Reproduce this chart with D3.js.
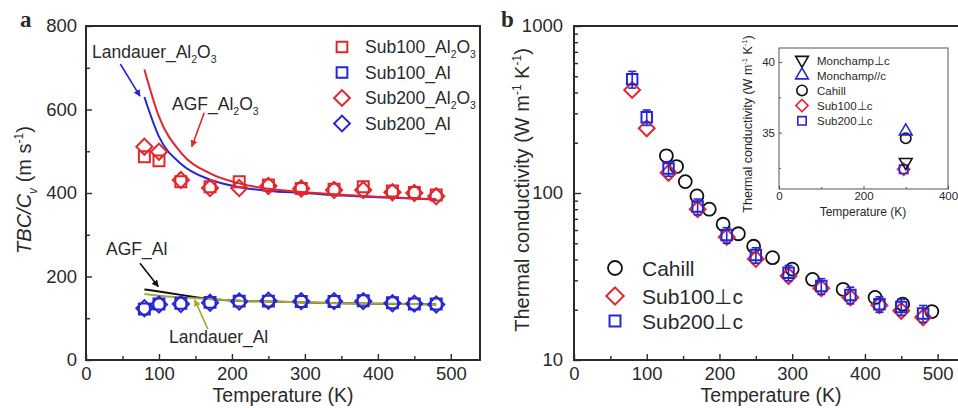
<!DOCTYPE html>
<html>
<head>
<meta charset="utf-8">
<script src="https://cdn.jsdelivr.net/npm/d3@7"></script>
<style>
  body { margin: 0; background: #fff; }
  text { font-family: "Liberation Sans", Arial, sans-serif; fill: #2a2a2a; }
</style>
</head>
<body>
<div id="chart"></div>
<script>
// ---- panel a data ----
const tA = [80, 100, 130, 170, 210, 250, 295, 340, 380, 420, 450, 480];
const sub100Al2O3 = [487, 477, 427, 415, 427, 419, 411, 409, 415, 405, 401, 395];
const sub200Al2O3 = [511, 499, 431, 412, 412, 417, 411, 407, 407, 402, 400, 392];
const sub100Al = [122, 134, 136, 138, 141, 141, 140, 140, 142, 137, 134, 134];
const sub200Al = [124, 133, 134, 137, 140, 142, 141, 141, 141, 136, 135, 133];
const tLine = [80, 100, 130, 170, 210, 250, 300, 350, 400, 450, 480];
const landauerAl2O3 = [630, 535, 470, 432, 414, 405, 400, 394, 390, 387, 385];
const agfAl2O3 = [696, 583, 497, 447, 423, 410, 402, 396, 391, 387, 384];
const agfAl = [169, 164, 156, 146, 142, 140, 138, 136, 135, 134, 133];
const landauerAl = [158, 154, 150, 146, 142, 140, 138, 136, 135, 134, 133];
const xTicksA = [0, 100, 200, 300, 400, 500];
const yTicksA = [0, 200, 400, 600, 800];

// ---- panel b data ----
const tCahill = [127, 141, 153, 169, 186, 205, 226, 247, 273, 300, 328, 370, 414, 452, 492];
const kCahill = [167, 144, 117, 96, 80, 65, 57, 48, 41, 35, 30.4, 26.5, 23.7, 21.6, 19.5];
const tSub = [80, 100, 130, 170, 210, 250, 295, 340, 380, 420, 450, 480];
const kSub100 = [414, 244, 132, 80, 54.5, 40.3, 31.8, 26.9, 23.7, 21.3, 19.7, 18];
const kSub200 = [480, 284, 140, 83, 56, 42.5, 33.3, 27.7, 24.5, 21.6, 20.8, 19];
const errSub200 = [55, 30, 14, 9, 6, 4.5, 3.5, 3, 2.8, 2.3, 2.3, 2.2];
const xTicksB = [0, 100, 200, 300, 400, 500];
const yTicksB = [10, 100, 1000];

// ---- inset data ----
const insetNames = ["Monchamp\u22A5c", "Monchamp//c", "Cahill", "Sub100\u22A5c", "Sub200\u22A5c"];
const insetT = [300, 300, 300, 295, 295];
const insetK = [32.9, 35.1, 34.6, 32.4, 32.4];

const red = "#e3262c", blue = "#2626d6", olive = "#a6a63a", ink = "#2a2a2a";

const svg = d3.select("#chart").append("svg")
  .attr("width", 958).attr("height", 408);

const diamond = s => d3.symbol().type(d3.symbolSquare).size(s)();
const square = s => d3.symbol().type(d3.symbolSquare).size(s)();

// text with sub/superscripts
function rich(sel, parts, size) {
  let shift = 0;
  parts.forEach(p => {
    const ts = sel.append("tspan").text(p.t);
    const target = p.sub ? size * 0.3 : p.sup ? -size * 0.42 : 0;
    if (target !== shift) { ts.attr("dy", target - shift); shift = target; }
    if (p.sub || p.sup) ts.style("font-size", (size * 0.6) + "px");
    if (p.it) ts.style("font-style", "italic");
  });
}

function styleAxis(g, size) {
  g.select(".domain").remove();
  g.selectAll("line").attr("stroke", ink).attr("stroke-width", 1.4);
  g.selectAll("text").style("font-size", size + "px").attr("fill", ink);
}

// arrow marker
const defs = svg.append("defs");
[["arrRed", red], ["arrBlue", blue], ["arrBlack", "#111"], ["arrOlive", olive]].forEach(([id, c]) => {
  defs.append("marker").attr("id", id).attr("viewBox", "0 0 10 10")
    .attr("refX", 9).attr("refY", 5).attr("markerWidth", 7).attr("markerHeight", 7)
    .attr("orient", "auto").attr("markerUnits", "userSpaceOnUse")
    .append("path").attr("d", "M0,0 L10,5 L0,10 Z").attr("fill", c);
});

// =============== PANEL A ===============
const xA = d3.scaleLinear().domain([0, 540]).range([86, 480]);
const yA = d3.scaleLinear().domain([0, 800]).range([360, 26]);
const gA = svg.append("g");

gA.append("g").attr("transform", "translate(0,360)")
  .call(d3.axisBottom(xA).tickValues(xTicksA).tickSizeInner(-6).tickSizeOuter(0).tickPadding(7))
  .call(g => styleAxis(g, 18.5));
gA.append("g").attr("transform", "translate(0,360)")
  .call(d3.axisBottom(xA).tickValues(d3.range(50, 540, 100)).tickSizeInner(-4).tickSizeOuter(0).tickFormat(""))
  .call(g => styleAxis(g, 18.5));
gA.append("g").attr("transform", "translate(86,0)")
  .call(d3.axisLeft(yA).tickValues(yTicksA).tickSizeInner(-6).tickSizeOuter(0).tickPadding(9))
  .call(g => styleAxis(g, 18.5));
gA.append("g").attr("transform", "translate(86,0)")
  .call(d3.axisLeft(yA).tickValues(d3.range(100, 800, 200)).tickSizeInner(-4).tickSizeOuter(0).tickFormat(""))
  .call(g => styleAxis(g, 18.5));
gA.append("rect").attr("x", 86).attr("y", 26).attr("width", 394).attr("height", 334)
  .attr("fill", "none").attr("stroke", ink).attr("stroke-width", 2);

// lines
const lineA = d3.line().x((d, i) => xA(tLine[i])).y(d => yA(d)).curve(d3.curveMonotoneX);
[[landauerAl2O3, blue], [agfAl2O3, red], [agfAl, "#111"], [landauerAl, olive]].forEach(([arr, c]) => {
  gA.append("path").attr("d", lineA(arr)).attr("fill", "none").attr("stroke", c).attr("stroke-width", 2);
});

// markers
function markersA(arr, color, kind) {
  gA.append("g").selectAll("path").data(arr).join("path")
    .attr("d", kind === "sq" ? square(120) : diamond(130))
    .attr("transform", (d, i) => `translate(${xA(tA[i])},${yA(d)})` + (kind === "sq" ? "" : " rotate(45)"))
    .attr("fill", "none").attr("stroke", color).attr("stroke-width", 2);
}
markersA(sub100Al2O3, red, "sq");
markersA(sub200Al2O3, red, "di");
markersA(sub100Al, blue, "sq");
markersA(sub200Al, blue, "di");

// legend a
const legA = [
  { parts: [{ t: "Sub100_Al" }, { t: "2", sub: true }, { t: "O" }, { t: "3", sub: true }], c: red, k: "sq" },
  { parts: [{ t: "Sub100_Al" }], c: blue, k: "sq" },
  { parts: [{ t: "Sub200_Al" }, { t: "2", sub: true }, { t: "O" }, { t: "3", sub: true }], c: red, k: "di" },
  { parts: [{ t: "Sub200_Al" }], c: blue, k: "di" }
];
legA.forEach((d, i) => {
  const y = 47 + i * 25.5;
  gA.append("path").attr("d", d.k === "sq" ? square(115) : diamond(125))
    .attr("transform", `translate(342,${y})` + (d.k === "sq" ? "" : " rotate(45)"))
    .attr("fill", "none").attr("stroke", d.c).attr("stroke-width", 2);
  rich(gA.append("text").attr("x", 365).attr("y", y + 6).style("font-size", "17.5px"), d.parts, 17.5);
});

// annotations a
function annot(textX, textY, parts, from, to, color, marker) {
  rich(gA.append("text").attr("x", textX).attr("y", textY).style("font-size", "17.5px"), parts, 17.5);
  gA.append("line")
    .attr("x1", xA(from[0])).attr("y1", yA(from[1]))
    .attr("x2", xA(to[0])).attr("y2", yA(to[1]))
    .attr("stroke", color).attr("stroke-width", 1.6).attr("marker-end", `url(#${marker})`);
}
annot(92, 58, [{ t: "Landauer_Al" }, { t: "2", sub: true }, { t: "O" }, { t: "3", sub: true }], [47, 709], [74, 632], blue, "arrBlue");
annot(172, 110, [{ t: "AGF_Al" }, { t: "2", sub: true }, { t: "O" }, { t: "3", sub: true }], [162, 592], [145, 511], red, "arrRed");
annot(106, 255, [{ t: "AGF_Al" }], [74, 232], [99, 176], "#111", "arrBlack");
annot(169, 343, [{ t: "Landauer_Al" }], [167, 74], [149, 144], olive, "arrOlive");

// axis titles a
gA.append("text").attr("x", 283).attr("y", 402).attr("text-anchor", "middle")
  .style("font-size", "19.5px").text("Temperature (K)");
rich(gA.append("text").attr("transform", "translate(31,190) rotate(-90)").attr("text-anchor", "middle")
  .style("font-size", "20px"),
  [{ t: "TBC/C", it: true }, { t: "v", sub: true, it: true }, { t: " (m s" }, { t: "-1", sup: true }, { t: ")" }], 20);
gA.append("text").attr("x", 20).attr("y", 27).style("font-family", "'Liberation Serif', serif")
  .style("font-weight", "bold").style("font-size", "23px").text("a");

// =============== PANEL B ===============
const xB = d3.scaleLinear().domain([0, 550]).range([574, 974]);
const yB = d3.scaleLog().domain([10, 1000]).range([360, 26]);
const gB = svg.append("g");

const minorB = [];
[10, 100].forEach(dec => { for (let m = 2; m <= 9; m++) minorB.push(dec * m); });

gB.append("g").attr("transform", "translate(0,360)")
  .call(d3.axisBottom(xB).tickValues(xTicksB).tickSizeInner(-6).tickSizeOuter(0).tickPadding(7))
  .call(g => styleAxis(g, 18.5));
gB.append("g").attr("transform", "translate(0,360)")
  .call(d3.axisBottom(xB).tickValues(d3.range(50, 550, 100)).tickSizeInner(-4).tickSizeOuter(0).tickFormat(""))
  .call(g => styleAxis(g, 18.5));
gB.append("g").attr("transform", "translate(574,0)")
  .call(d3.axisLeft(yB).tickValues(yTicksB).tickFormat(d3.format("d")).tickSizeInner(-7).tickSizeOuter(0).tickPadding(11))
  .call(g => styleAxis(g, 18.5));
gB.append("g").attr("transform", "translate(574,0)")
  .call(d3.axisLeft(yB).tickValues(minorB).tickSizeInner(-4).tickSizeOuter(0).tickFormat(""))
  .call(g => styleAxis(g, 18.5));
gB.append("rect").attr("x", 574).attr("y", 26).attr("width", 400).attr("height", 334)
  .attr("fill", "none").attr("stroke", ink).attr("stroke-width", 2);

// Cahill circles
gB.append("g").selectAll("circle").data(kCahill).join("circle")
  .attr("cx", (d, i) => xB(tCahill[i])).attr("cy", d => yB(d)).attr("r", 6.5)
  .attr("fill", "none").attr("stroke", "#111").attr("stroke-width", 1.8);
// Sub100 diamonds
gB.append("g").selectAll("path").data(kSub100).join("path")
  .attr("d", diamond(125))
  .attr("transform", (d, i) => `translate(${xB(tSub[i])},${yB(d)}) rotate(45)`)
  .attr("fill", "none").attr("stroke", red).attr("stroke-width", 2);
// Sub200 squares + error bars
const eb = gB.append("g").selectAll("g").data(kSub200).join("g");
eb.append("line")
  .attr("x1", (d, i) => xB(tSub[i])).attr("x2", (d, i) => xB(tSub[i]))
  .attr("y1", (d, i) => yB(d + errSub200[i])).attr("y2", (d, i) => yB(d - errSub200[i]))
  .attr("stroke", blue).attr("stroke-width", 1.6);
eb.append("line")
  .attr("x1", (d, i) => xB(tSub[i]) - 4).attr("x2", (d, i) => xB(tSub[i]) + 4)
  .attr("y1", (d, i) => yB(d + errSub200[i])).attr("y2", (d, i) => yB(d + errSub200[i]))
  .attr("stroke", blue).attr("stroke-width", 1.6);
eb.append("line")
  .attr("x1", (d, i) => xB(tSub[i]) - 4).attr("x2", (d, i) => xB(tSub[i]) + 4)
  .attr("y1", (d, i) => yB(d - errSub200[i])).attr("y2", (d, i) => yB(d - errSub200[i]))
  .attr("stroke", blue).attr("stroke-width", 1.6);
eb.append("path").attr("d", square(110))
  .attr("transform", (d, i) => `translate(${xB(tSub[i])},${yB(d)})`)
  .attr("fill", "none").attr("stroke", blue).attr("stroke-width", 2);

// legend b
const legB = [["Cahill", "#111", "ci"], ["Sub100\u22A5c", red, "di"], ["Sub200\u22A5c", blue, "sq"]];
const legY = [268, 296, 321];
legB.forEach((d, i) => {
  const y = legY[i];
  if (d[2] === "ci") {
    gB.append("circle").attr("cx", 615).attr("cy", y).attr("r", 7)
      .attr("fill", "none").attr("stroke", d[1]).attr("stroke-width", 1.8);
  } else {
    gB.append("path").attr("d", d[2] === "sq" ? square(120) : diamond(150))
      .attr("transform", `translate(615,${y})` + (d[2] === "di" ? " rotate(45)" : ""))
      .attr("fill", "none").attr("stroke", d[1]).attr("stroke-width", 2);
  }
  gB.append("text").attr("x", 642).attr("y", y + 7.5).style("font-size", "21px").text(d[0]);
});

// axis titles b
gB.append("text").attr("x", 771).attr("y", 402).attr("text-anchor", "middle")
  .style("font-size", "19.5px").text("Temperature (K)");
rich(gB.append("text").attr("transform", "translate(529,190) rotate(-90)").attr("text-anchor", "middle")
  .style("font-size", "20px"),
  [{ t: "Thermal conductivity (W m" }, { t: "-1", sup: true }, { t: " K" }, { t: "-1", sup: true }, { t: ")" }], 20);
gB.append("text").attr("x", 501).attr("y", 27).style("font-family", "'Liberation Serif', serif")
  .style("font-weight", "bold").style("font-size", "23px").text("b");

// =============== INSET ===============
const xI = d3.scaleLinear().domain([0, 400]).range([779, 948]);
const yI = d3.scaleLinear().domain([31, 41]).range([189, 48]);
const gI = svg.append("g");
gI.append("rect").attr("x", 779).attr("y", 48).attr("width", 169).attr("height", 141)
  .attr("fill", "#fff").attr("stroke", "#555").attr("stroke-width", 1);
gI.append("g").attr("transform", "translate(0,189)")
  .call(d3.axisBottom(xI).tickValues([0, 200, 400]).tickSizeInner(-3).tickSizeOuter(0).tickPadding(3))
  .call(g => styleAxis(g, 11.5))
  .call(g => g.selectAll("line").attr("stroke-width", 1).attr("stroke", "#555"));
gI.append("g").attr("transform", "translate(0,189)")
  .call(d3.axisBottom(xI).tickValues([100, 300]).tickSizeInner(-2).tickSizeOuter(0).tickFormat(""))
  .call(g => styleAxis(g, 11.5))
  .call(g => g.selectAll("line").attr("stroke-width", 1).attr("stroke", "#555"));
gI.append("g").attr("transform", "translate(779,0)")
  .call(d3.axisLeft(yI).tickValues([35, 40]).tickSizeInner(-3).tickSizeOuter(0).tickPadding(4))
  .call(g => styleAxis(g, 11.5))
  .call(g => g.selectAll("line").attr("stroke-width", 1).attr("stroke", "#555"));
gI.append("g").attr("transform", "translate(779,0)")
  .call(d3.axisLeft(yI).tickValues([32.5, 37.5]).tickSizeInner(-2).tickSizeOuter(0).tickFormat(""))
  .call(g => styleAxis(g, 11.5))
  .call(g => g.selectAll("line").attr("stroke-width", 1).attr("stroke", "#555"));
gI.append("text").attr("x", 863).attr("y", 216).attr("text-anchor", "middle")
  .style("font-size", "12px").text("Temperature (K)");
rich(gI.append("text").attr("transform", "translate(752,124) rotate(-90)").attr("text-anchor", "middle")
  .style("font-size", "12.5px"),
  [{ t: "Thermal conductivity (W m" }, { t: "-1", sup: true }, { t: " K" }, { t: "-1", sup: true }, { t: ")" }], 12.5);

const insetStyle = [
  { c: "#111", k: "tdown" }, { c: blue, k: "tup" }, { c: "#111", k: "ci" }, { c: red, k: "di" }, { c: blue, k: "sq" }
];
function insetSym(g, k, c, x, y) {
  if (k === "ci") {
    g.append("circle").attr("cx", x).attr("cy", y).attr("r", 5.2)
      .attr("fill", "none").attr("stroke", c).attr("stroke-width", 1.6);
    return;
  }
  const t = k === "tup" || k === "tdown" ? d3.symbol().type(d3.symbolTriangle).size(70)() :
    k === "di" ? diamond(75) : square(70);
  const rot = k === "tdown" ? " rotate(180)" : k === "di" ? " rotate(45)" : "";
  g.append("path").attr("d", t).attr("transform", `translate(${x},${y})` + rot)
    .attr("fill", "none").attr("stroke", c).attr("stroke-width", 1.6);
}
insetNames.forEach((name, i) => {
  const y = 60 + i * 15.2;
  insetSym(gI, insetStyle[i].k, insetStyle[i].c, 802, y);
  gI.append("text").attr("x", 817).attr("y", y + 4.5).style("font-size", "11.5px").text(name);
});
[3, 4, 0, 2, 1].forEach(i => insetSym(gI, insetStyle[i].k, insetStyle[i].c, xI(insetT[i]), yI(insetK[i])));
</script>
</body>
</html>
